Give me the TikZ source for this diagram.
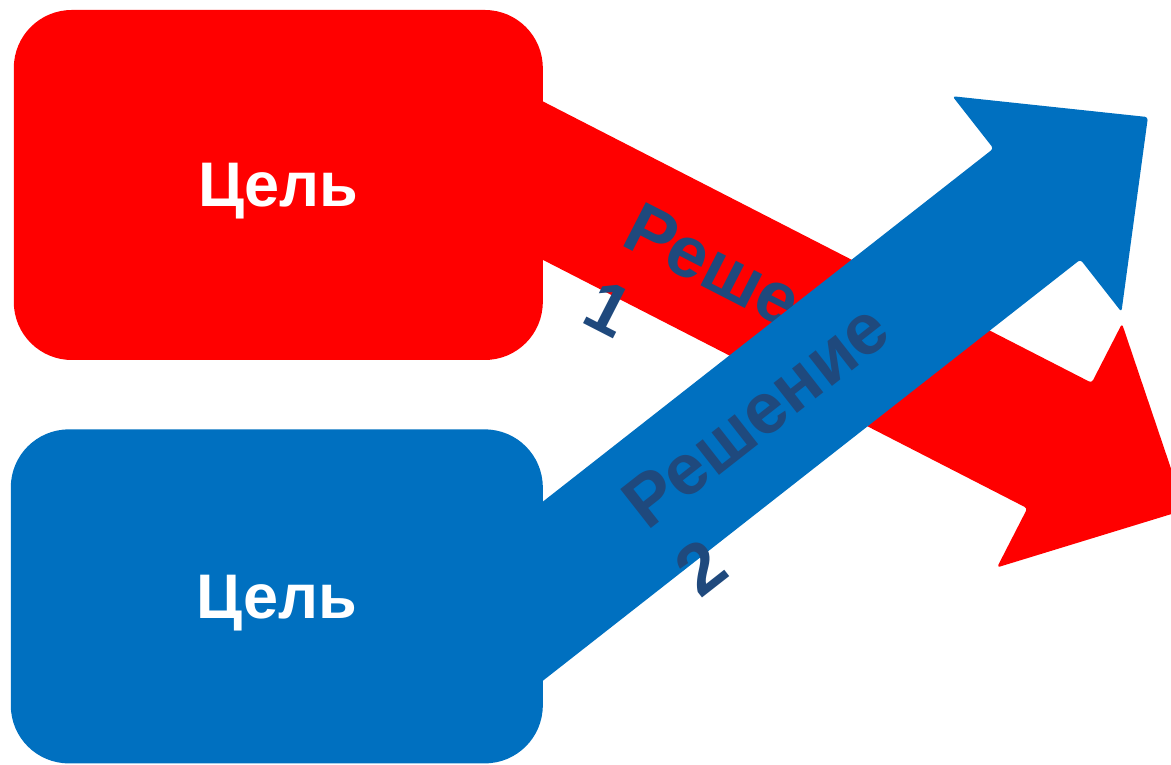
\documentclass[tikz,border=0pt]{standalone}
\usepackage{fontspec}
\setmainfont{Liberation Sans}
\usetikzlibrary{positioning}
\definecolor{cred}{RGB}{255,0,0}
\definecolor{cblue}{RGB}{0,112,192}
\definecolor{cnavy}{RGB}{31,73,125}

\begin{document}
\begin{tikzpicture}[x=1pt,y=1pt,
    goal/.style={rectangle,rounded corners=58pt,minimum width=529pt,minimum height=350pt,
      text=white,text depth=0pt,font=\fontsize{63}{63}\selectfont\bfseries},
    lab/.style={text=cnavy,align=left,inner sep=0pt,anchor=north west,
      font=\fontsize{72}{87}\selectfont\bfseries},
    pics/barrow/.style={code={
      \path[pic actions,rounded corners=3pt] (0,-70.5) -- (#1-141,-70.5) -- (#1-141,-137)
        -- (#1,0) -- (#1-141,137) -- (#1-141,70.5) -- (0,70.5) -- cycle;}}]

    \useasboundingbox (0,0) rectangle (1171,765);
    \coordinate (t1) at (450,632);
    \coordinate (t2) at (471,117.5);

    % first goal and its solution
    \pic[fill=cred,rotate=-27.15] at (t1) {barrow=826};
    \node[goal,fill=cred] (g1) at (278.3,580) {Цель};
    \node[lab,rotate=-27.15] (l1) at (642.1,565.1) {Решение\\1};

    % second goal and its solution
    \pic[fill=cblue,rotate=38.08] at (t2) {barrow=860};
    \node[goal,fill=cblue,minimum width=532pt,minimum height=334pt,
      below=69pt of g1,xshift=-1.5pt] (g2) {Цель};
    \node[lab,rotate=38.08] (l2) at (616.3,272.5) {Решение\\2};
\end{tikzpicture}
\end{document}
